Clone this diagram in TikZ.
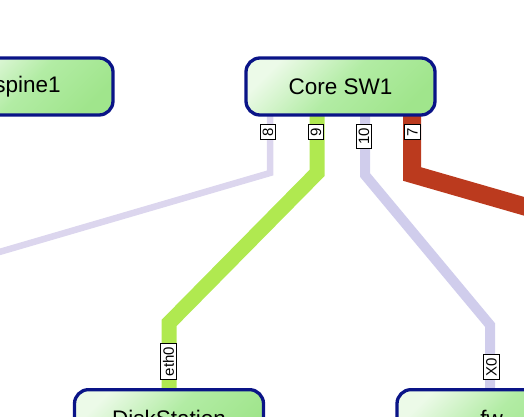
\documentclass[tikz,border=0pt]{standalone}
\usepackage{fontspec}
\setmainfont{Liberation Sans}
\definecolor{navyb}{RGB}{10,20,135}
\definecolor{gA}{RGB}{236,250,232}
\definecolor{gB}{RGB}{160,229,140}
\definecolor{gM}{RGB}{178,236,164}
\definecolor{lgreen}{RGB}{176,233,80}
\definecolor{lred}{RGB}{187,58,30}
\definecolor{lav8}{RGB}{220,214,238}
\definecolor{lav10}{RGB}{208,205,236}
\begin{document}
\begin{tikzpicture}[x=1pt,y=-1pt,
  dev/.style={rounded corners=14pt, draw=navyb, line width=3.3pt,
    top color=gA, bottom color=gB, middle color=gM, shading angle=45,
    minimum width=189pt, minimum height=57pt,
    font=\fontsize{22.5}{26}\selectfont, text=black, inner sep=0pt},
  port/.style={draw=black, line width=0.9pt, fill=white, rotate=90,
    font=\fontsize{15}{16}\selectfont, inner xsep=3.5pt, inner ysep=2.5pt},
  link/.style={line join=miter}
]
\useasboundingbox (0,0) rectangle (524,416);
\clip (0,0) rectangle (524,416);
% far ends
\coordinate (far8) at (-100,281);
\coordinate (far7) at (700,257);
% node positions
\coordinate (coreC) at (340.5,86.5);
\coordinate (spineC) at (27.5,86.5);
\coordinate (diskN) at (169,388);
\coordinate (fwN) at (491.5,388);
% links (drawn first, behind the nodes)
\draw[link, lav8, line width=6.5pt] ([xshift=-70.5pt]coreC) -- ++(0,86.5) -- (far8);
\draw[link, lgreen, line width=15pt] ([xshift=-23.5pt]coreC) -- ++(0,86.5) -- ++(-148,150) -- (diskN);
\draw[link, lav10, line width=10pt] ([xshift=24.5pt]coreC) -- ++(0,88.5) -- ++(125,150) -- ([xshift=-1.5pt]fwN);
\draw[link, lred, line width=18pt] ([xshift=71.5pt]coreC) -- ++(0,87.5) -- (far7);
% nodes
\node[dev] (core) at (coreC) {Core SW1};
\node[dev, minimum width=171pt] (spine) at (spineC) {spine1};
\node[dev, anchor=north] (disk) at (diskN) {DiskStation};
\node[dev, anchor=north] (fw) at (fwN) {fw};
% port labels
\node[port, anchor=east] (p8) at (268,124) {8};
\node[port, anchor=east] (p9) at (316,124) {9};
\node[port, anchor=east] (p10) at (364,124) {10};
\node[port, anchor=east] (p7) at (412.5,124) {7};
\node[port, anchor=west] (pe) at (168.5,380) {eth0};
\node[port, anchor=west] (px) at (491.5,380) {X0};
\end{tikzpicture}
\end{document}
